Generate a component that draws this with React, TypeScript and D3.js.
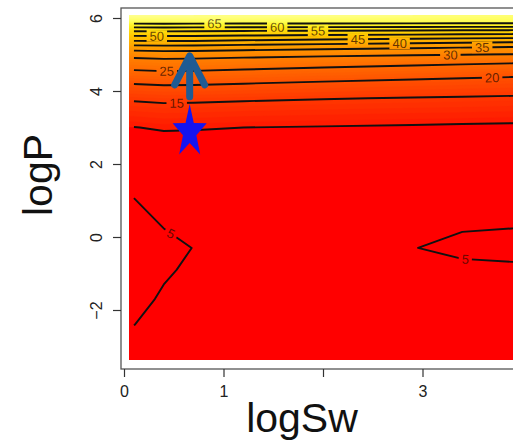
import React, { useRef, useEffect } from "react";
import * as d3 from "d3";

// surface grid: columns along logSw, rows along logP (bottom to top)
const gridSw = [0.1, 0.4, 0.7, 1.2, 2.0, 2.9, 3.4, 3.9, 4.3];
const gridP = [-3.3, -2.4, -1.7, -0.9, -0.3, 0.25, 1.1, 2.0, 2.6, 3.0, 3.4, 3.8, 4.2, 4.5, 4.8, 5.0, 5.2, 5.35, 5.5, 5.65, 5.8, 5.92, 6.05];
// outer edges of the image cells
const swEdges = [0.05, 4.6];
const pEdges = [-3.37, 6.08];

const zRows = [
  [6.0, 6.2, 6.3, 6.5, 6.6, 6.5, 6.4, 6.3, 6.3],
  [4.98, 5.6, 6.0, 6.3, 6.5, 6.4, 6.2, 6.1, 6.1],
  [4.3, 5.3, 5.8, 6.2, 6.4, 6.2, 6.0, 5.9, 5.9],
  [3.8, 4.7, 5.4, 5.9, 6.2, 5.8, 5.4, 5.4, 5.4],
  [3.5, 4.3, 5.05, 5.6, 5.9, 5.05, 4.6, 4.3, 4.2],
  [3.9, 5.02, 5.6, 6.0, 6.2, 5.5, 5.1, 5.02, 4.98],
  [5.05, 5.8, 6.0, 6.3, 6.5, 6.3, 6.1, 6.0, 6.0],
  [6.5, 6.8, 6.9, 7.0, 7.0, 7.0, 6.9, 6.9, 6.9],
  [8.5, 8.7, 8.7, 8.6, 8.4, 8.3, 8.2, 8.0, 8.0],
  [9.9, 10.4, 10.3, 10.0, 9.8, 9.6, 9.4, 9.3, 9.2],
  [12.6, 13.0, 12.9, 12.6, 12.3, 12.0, 11.9, 11.7, 11.6],
  [15.6, 16.0, 15.9, 15.6, 15.2, 14.8, 14.6, 14.4, 14.3],
  [20.1, 20.5, 20.4, 20.0, 19.3, 18.6, 18.3, 18.0, 17.9],
  [24.0, 24.4, 24.3, 23.8, 23.0, 22.2, 21.7, 21.3, 21.2],
  [28.1, 28.5, 28.4, 27.9, 27.2, 26.4, 26.0, 25.6, 25.5],
  [31.8, 32.2, 32.1, 31.6, 31.0, 30.4, 30.1, 29.8, 29.7],
  [37.9, 38.2, 38.1, 37.4, 36.6, 35.8, 35.3, 34.8, 34.7],
  [44.1, 44.3, 44.2, 43.5, 42.6, 41.6, 41.0, 40.5, 40.4],
  [49.6, 49.8, 49.7, 49.2, 48.6, 48.0, 47.6, 47.3, 47.2],
  [55.5, 55.6, 55.5, 55.2, 54.9, 54.6, 54.3, 54.1, 54.0],
  [62.8, 62.9, 62.8, 62.6, 62.5, 62.4, 62.3, 62.3, 62.2],
  [68.6, 68.7, 68.6, 68.5, 68.4, 68.2, 68.1, 68.0, 68.0],
  [72, 72, 72, 71.8, 71.5, 71.0, 70.6, 70.3, 70.2],
];

const contourLevels = [5, 10, 15, 20, 25, 30, 35, 40, 45, 50, 55, 60, 65];
// contour labels: level and the (logSw, logP) spot it sits near
const labelLevels = [65, 60, 55, 50, 45, 40, 35, 30, 25, 20, 15, 10, 5, 5];
const labelSw = [0.91, 1.54, 1.95, 0.33, 2.35, 2.77, 3.6, 3.28, 0.43, 3.7, 0.53, 0.66, 0.46, 3.43];
const labelP = [5.86, 5.81, 5.73, 5.48, 5.48, 5.34, 5.21, 4.93, 4.49, 4.36, 3.64, 2.93, 0.05, -0.6];

const xTicks = [0, 1, 2, 3];
const xTickLabels = ["0", "1", "", "3"];
const yTicks = [-2, 0, 2, 4, 6];

// markers
const starPoint = [0.66, 2.88];
const arrowFrom = [0.66, 3.84];
const arrowTo = [0.66, 4.96];

// split a closed contour ring into the open lines that stay inside the grid
function ringLines(ring, nx, ny) {
  const inside = (p) => p[0] > 0 && p[0] < nx && p[1] > 0 && p[1] < ny;
  const pts = ring.slice(0, -1);
  const n = pts.length;
  const start = pts.findIndex((p) => !inside(p));
  if (start < 0) return [ring];
  const lines = [];
  let cur = [];
  for (let k = 1; k <= n; k++) {
    const p = pts[(start + k) % n];
    if (inside(p)) cur.push(p);
    else {
      if (cur.length > 1) lines.push(cur);
      cur = [];
    }
  }
  if (cur.length > 1) lines.push(cur);
  return lines;
}

const App = () => {
  const svgRef = useRef<SVGSVGElement>(null);

  useEffect(() => {
    const svg = d3.select(svgRef.current);
    svg.selectAll("*").remove();

    const font = "'Liberation Sans', Arial, sans-serif";
    const frame = { left: 121, top: 8, right: 545, bottom: 369 };

    const x = d3.scaleLinear().domain([0, 4]).range([124, 522]);
    const y = d3.scaleLinear().domain([-2, 6]).range([310, 18]);

    const nx = gridSw.length;
    const ny = gridP.length;
    // contour coordinates -> data (cell centres sit at i + 0.5)
    const cSw = d3.scaleLinear()
      .domain([0, ...gridSw.map((_, i) => i + 0.5), nx])
      .range([swEdges[0], ...gridSw, swEdges[1]]);
    const cP = d3.scaleLinear()
      .domain([0, ...gridP.map((_, i) => i + 0.5), ny])
      .range([pEdges[0], ...gridP, pEdges[1]]);
    const px = (c) => x(cSw(c));
    const py = (c) => y(cP(c));
    const values = zRows.flat();

    // padded copy of the grid for the image fill, so the cell edges stay square
    const padSw = [swEdges[0], ...gridSw, swEdges[1]];
    const padP = [pEdges[0], ...gridP, pEdges[1]];
    const padRows = [zRows[0], ...zRows, zRows[ny - 1]].map((r) => [r[0], ...r, r[nx - 1]]);
    const pSw = d3.scaleLinear().domain(padSw.map((_, i) => i + 0.5)).range(padSw);
    const pP = d3.scaleLinear().domain(padP.map((_, i) => i + 0.5)).range(padP);

    const defs = svg.append("defs");
    defs.append("clipPath").attr("id", "plot-clip")
      .append("rect")
      .attr("x", frame.left).attr("y", frame.top)
      .attr("width", frame.right - frame.left).attr("height", frame.bottom - frame.top);
    defs.append("clipPath").attr("id", "image-clip")
      .append("rect")
      .attr("x", x(swEdges[0])).attr("y", y(pEdges[1]))
      .attr("width", x(swEdges[1]) - x(swEdges[0])).attr("height", y(pEdges[0]) - y(pEdges[1]));

    // heat colours
    const heat = d3.scaleLinear<string>()
      .domain([10, 13, 18.5, 25, 31, 40, 50, 62, 68, 74])
      .range(["#ff1800", "#ff2c00", "#ff4a00", "#ff6a00", "#ff8600", "#ffa600", "#ffc800", "#fff020", "#ffff55", "#ffffa0"])
      .clamp(true);
    const fillColor = (v) => (v < 10 ? "#ff0000" : heat(v));

    const proj = d3.geoTransform({
      point(a, b) {
        this.stream.point(x(pSw(a)), y(pP(b)));
      },
    });
    const geo = d3.geoPath(proj);

    const bands = d3.contours()
      .size([nx + 2, ny + 2])
      .thresholds(d3.range(0, 75, 1))(padRows.flat());
    svg.append("g")
      .attr("clip-path", "url(#image-clip)")
      .selectAll("path")
      .data(bands)
      .join("path")
      .attr("d", geo)
      .attr("fill", (d) => fillColor(d.value + 0.5))
      .attr("stroke", (d) => fillColor(d.value + 0.5))
      .attr("stroke-width", 0.4);

    // contour lines
    const iso = d3.contours().size([nx, ny]).thresholds(contourLevels)(values);
    const linesByLevel = new Map();
    iso.forEach((g) => {
      const out = [];
      g.coordinates.forEach((poly) =>
        poly.forEach((ring) =>
          ringLines(ring, nx, ny).forEach((l) => out.push(l.map(([a, b]) => [px(a), py(b)])))
        )
      );
      linesByLevel.set(g.value, out);
    });

    // label placement
    const fs = 13;
    const labels = labelLevels.map((lv, i) => {
      const tx = x(labelSw[i]);
      const ty = y(labelP[i]);
      let best = null;
      (linesByLevel.get(lv) || []).forEach((line) => {
        for (let k = 0; k < line.length - 1; k++) {
          const [ax, ay] = line[k];
          const [bx, by] = line[k + 1];
          const dx = bx - ax, dy = by - ay;
          const L2 = dx * dx + dy * dy || 1;
          let t = ((tx - ax) * dx + (ty - ay) * dy) / L2;
          t = Math.max(0, Math.min(1, t));
          const qx = ax + t * dx, qy = ay + t * dy;
          const d = (qx - tx) ** 2 + (qy - ty) ** 2;
          let ang = (Math.atan2(dy, dx) * 180) / Math.PI;
          if (ang > 90) ang -= 180;
          if (ang < -90) ang += 180;
          if (!best || d < best.d) best = { d, qx, qy, ang: Math.max(-25, Math.min(25, ang)) };
        }
      });
      const text = String(lv);
      return { text, x: best ? best.qx : tx, y: best ? best.qy : ty, ang: best ? best.ang : 0, w: text.length * fs * 0.556 + 6 };
    });

    const mask = defs.append("mask").attr("id", "label-mask").attr("maskUnits", "userSpaceOnUse");
    mask.append("rect").attr("x", 0).attr("y", 0).attr("width", 513).attr("height", 442).attr("fill", "#fff");
    mask.selectAll("rect.gap")
      .data(labels)
      .join("rect")
      .attr("class", "gap")
      .attr("x", (d) => -d.w / 2)
      .attr("y", -fs * 0.45)
      .attr("width", (d) => d.w)
      .attr("height", fs * 0.9)
      .attr("transform", (d) => `translate(${d.x},${d.y}) rotate(${d.ang})`)
      .attr("fill", "#000");

    const line = d3.line();
    const lineG = svg.append("g").attr("clip-path", "url(#plot-clip)").append("g").attr("mask", "url(#label-mask)");
    contourLevels.forEach((lv) => {
      lineG.selectAll(null)
        .data(linesByLevel.get(lv) || [])
        .join("path")
        .attr("d", (d) => line(d))
        .attr("fill", "none")
        .attr("stroke", "#111")
        .attr("stroke-width", 1.9)
        .attr("stroke-linejoin", "round");
    });

    svg.append("g")
      .selectAll("text")
      .data(labels)
      .join("text")
      .attr("transform", (d) => `translate(${d.x},${d.y}) rotate(${d.ang})`)
      .attr("text-anchor", "middle")
      .attr("dy", "0.36em")
      .attr("font-family", font)
      .attr("font-size", fs)
      .attr("fill", "#2a0a00")
      .attr("fill-opacity", 0.72)
      .text((d) => d.text);

    // frame
    svg.append("rect")
      .attr("x", frame.left).attr("y", frame.top)
      .attr("width", frame.right - frame.left).attr("height", frame.bottom - frame.top)
      .attr("fill", "none")
      .attr("stroke", "#555")
      .attr("stroke-width", 1.3);

    // axes
    const gx = svg.append("g")
      .attr("transform", `translate(0,${frame.bottom})`)
      .call(d3.axisBottom(x).tickValues(xTicks).tickFormat((d, i) => xTickLabels[i]).tickSize(8));
    gx.select(".domain").remove();
    gx.selectAll(".tick line").attr("stroke", "#333").attr("stroke-width", 1.2);
    gx.selectAll(".tick text")
      .attr("y", 28).attr("dy", null)
      .attr("font-family", font).attr("font-size", 16).attr("fill", "#222");

    const gy = svg.append("g")
      .attr("transform", `translate(${frame.left},0)`)
      .call(d3.axisLeft(y).tickValues(yTicks).tickSize(8));
    gy.select(".domain").remove();
    gy.selectAll(".tick line").attr("stroke", "#333").attr("stroke-width", 1.2);
    gy.selectAll(".tick text")
      .attr("x", null).attr("dy", null)
      .attr("text-anchor", "middle")
      .attr("transform", "translate(-19,0) rotate(-90)")
      .attr("font-family", font).attr("font-size", 16).attr("fill", "#222");

    // arrow
    const ax = x(arrowFrom[0]);
    const ay0 = y(arrowFrom[1]);
    const ay1 = y(arrowTo[1]);
    const arrowG = svg.append("g")
      .attr("fill", "none")
      .attr("stroke", "#1f5b93")
      .attr("stroke-width", 7)
      .attr("stroke-linecap", "round")
      .attr("stroke-linejoin", "round");
    arrowG.append("path").attr("d", line([[ax, ay0], [ax, ay1 + 3]]));
    arrowG.append("path").attr("d", line([[ax - 15, ay1 + 29], [ax, ay1], [ax + 15, ay1 + 29]]));

    // star
    const R = 28, r = 11;
    const starPts = d3.range(10).map((k) => {
      const a = -Math.PI / 2 + (k * Math.PI) / 5;
      const rr = k % 2 === 0 ? R : r;
      return [Math.cos(a) * rr * 0.64, Math.sin(a) * rr];
    });
    svg.append("path")
      .attr("transform", `translate(${x(starPoint[0])},${y(starPoint[1])})`)
      .attr("d", line(starPts) + "Z")
      .attr("fill", "#1414f0");

    // titles
    svg.append("text")
      .attr("x", 302).attr("y", 432)
      .attr("text-anchor", "middle")
      .attr("font-family", font).attr("font-size", 41).attr("fill", "#111")
      .text("logSw");
    svg.append("text")
      .attr("transform", "translate(52,175) rotate(-90)")
      .attr("text-anchor", "middle")
      .attr("font-family", font).attr("font-size", 41).attr("fill", "#111")
      .text("logP");
  }, []);

  return (
    <svg ref={svgRef} width={513} height={442} style={{ position: "absolute", left: 0, top: 0, background: "#fff" }}></svg>
  );
};

export default App;
